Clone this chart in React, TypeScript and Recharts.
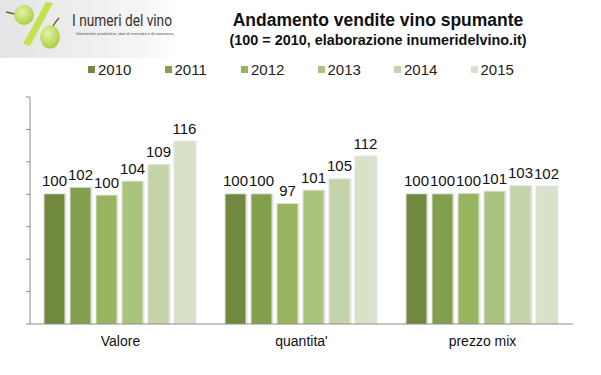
import React from "react";
import {
  BarChart,
  Bar,
  XAxis,
  YAxis,
  Legend,
  LabelList,
} from "recharts";

const categorie = ["Valore", "quantita'", "prezzo mix"];
const anni = ["2010", "2011", "2012", "2013", "2014", "2015"];

const v2010 = [100, 100, 100];
const v2011 = [102, 100, 100];
const v2012 = [99.6, 97, 100.1];
const v2013 = [103.9, 101.1, 100.8];
const v2014 = [109, 104.6, 102.5];
const v2015 = [116.2, 111.6, 102.4];

const yTicks = [60, 70, 80, 90, 100, 110, 120, 130];

const COLORI: Record<string, string> = {
  "2010": "#71893f",
  "2011": "#82a04c",
  "2012": "#98b45c",
  "2013": "#abc47d",
  "2014": "#c4d4a8",
  "2015": "#d8e2c8",
};

const serie = [v2010, v2011, v2012, v2013, v2014, v2015];

const dati = categorie.map((c, i) => {
  const riga: Record<string, string | number> = { categoria: c };
  anni.forEach((a, j) => {
    riga[a] = serie[j][i];
  });
  return riga;
});

const FONT = "'Liberation Sans', Arial, sans-serif";

function BarraOmbra(props: any) {
  const { x, y, width, height, fill } = props;
  if (!height || height <= 0) return null;
  return (
    <g>
      <rect x={x - 1} y={y - 1} width={width + 3} height={height + 1} fill="#e2e2e2" />
      <rect x={x} y={y} width={width} height={height} fill={fill} />
    </g>
  );
}

function Legenda() {
  return (
    <div style={{ display: "flex", fontFamily: FONT, fontSize: 15, color: "#222" }}>
      {anni.map((a) => (
        <div key={a} style={{ width: 76.5, display: "flex", alignItems: "center" }}>
          <span
            style={{
              display: "inline-block",
              width: 7,
              height: 7,
              background: COLORI[a],
              marginRight: 3,
            }}
          />
          <span>{a}</span>
        </div>
      ))}
    </div>
  );
}

function Logo() {
  return (
    <svg width={220} height={58} style={{ position: "absolute", left: 0, top: 0 }}>
      <defs>
        <linearGradient id="sfondo" x1="0" x2="1" y1="0" y2="0">
          <stop offset="0%" stopColor="#e4e4e4" />
          <stop offset="85%" stopColor="#f6f6f6" />
          <stop offset="100%" stopColor="#ffffff" />
        </linearGradient>
        <radialGradient id="acino" cx="0.4" cy="0.35" r="0.7">
          <stop offset="0%" stopColor="#e4f3a8" />
          <stop offset="100%" stopColor="#a9cc3c" />
        </radialGradient>
      </defs>
      <rect x={0} y={0} width={174} height={58} fill="url(#sfondo)" />
      <line x1={6} y1={12} x2={15} y2={14} stroke="#7a5a2a" strokeWidth={1.5} />
      <ellipse cx={24} cy={15} rx={10} ry={10} fill="url(#acino)" />
      <polygon points="46,2 53,3 30,46 23,44" fill="#c4e24e" />
      <path d="M52,28 Q55,22 59,18" stroke="#7a5a2a" strokeWidth={1.5} fill="none" />
      <ellipse cx={50} cy={37} rx={10} ry={11.5} fill="url(#acino)" />
      <text
        x={72}
        y={26}
        fontFamily="Roboto, sans-serif"
        fontSize={17}
        fill="#333"
        textLength={100}
        lengthAdjust="spacingAndGlyphs"
      >
        I numeri del vino
      </text>
      <text
        x={76}
        y={35}
        fontFamily="Roboto, sans-serif"
        fontSize={4}
        fill="#555"
        textLength={98}
        lengthAdjust="spacingAndGlyphs"
      >
        Statistiche produttive, dati di mercato e di consumo,
      </text>
    </svg>
  );
}

export default function App() {
  return (
    <div
      style={{
        position: "absolute",
        left: 0,
        top: 0,
        width: 601,
        height: 375,
        background: "#fff",
        overflow: "hidden",
      }}
    >
      <Logo />
      <div
        style={{
          position: "absolute",
          left: 178,
          width: 400,
          top: 9,
          textAlign: "center",
          fontFamily: FONT,
          fontWeight: "bold",
          color: "#111",
        }}
      >
        <div style={{ fontSize: 17.5, lineHeight: "22px" }}>Andamento vendite vino spumante</div>
        <div style={{ fontSize: 14.4, lineHeight: "18px" }}>
          (100 = 2010, elaborazione inumeridelvino.it)
        </div>
      </div>
      <BarChart
        width={601}
        height={375}
        data={dati}
        margin={{ top: 97, right: 28, left: 0, bottom: 21 }}
        barCategoryGap="8%"
        barGap={6}
      >
        <XAxis
          dataKey="categoria"
          height={30}
          tickLine={false}
          tickMargin={6}
          stroke="#8c8c8c"
          tick={{ fill: "#111", fontSize: 14, fontFamily: FONT }}
        />
        <YAxis
          width={30}
          domain={[60, 130]}
          ticks={yTicks}
          tick={() => <g />}
          tickSize={4}
          stroke="#8c8c8c"
        />
        <Legend
          layout="horizontal"
          verticalAlign="middle"
          align="center"
          wrapperStyle={{ top: 61, left: 88, width: 470 }}
          content={() => <Legenda />}
        />
        {anni.map((a) => (
          <Bar
            key={a}
            dataKey={a}
            fill={COLORI[a]}
            shape={<BarraOmbra />}
            isAnimationActive={false}
          >
            <LabelList
              dataKey={a}
              position="top"
              offset={8}
              formatter={(v: any) => Math.round(Number(v))}
              style={{ fill: "#111", fontSize: 15, fontFamily: FONT }}
            />
          </Bar>
        ))}
      </BarChart>
    </div>
  );
}
